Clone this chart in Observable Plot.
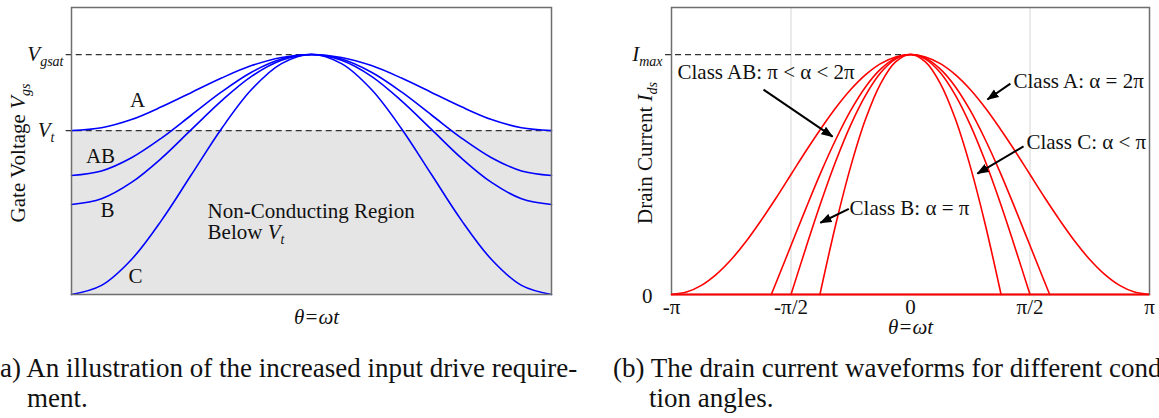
<!DOCTYPE html>
<html><head><meta charset="utf-8">
<script src="https://cdn.jsdelivr.net/npm/d3@7"></script>
<script src="https://cdn.jsdelivr.net/npm/@observablehq/plot@0.6"></script>
<style>
body{margin:0;background:#fff;}
#wrap{position:relative;width:1159px;height:418px;overflow:hidden;font-family:"Liberation Serif","Times New Roman",serif;color:#111;}
.plot{position:absolute;top:0;}
.cap{position:absolute;font-size:27px;line-height:30px;white-space:nowrap;}
</style></head><body><div id="wrap"></div>
<script>
// ---------- Panel (a): gate voltage, theta in units of pi ----------
const thetaL = [-1,-0.875,-0.75,-0.625,-0.5,-0.375,-0.25,-0.125,0,0.125,0.25,0.375,0.5,0.625,0.75,0.875,1];
const vgsA  = [0.683,0.695,0.729,0.782,0.842,0.902,0.954,0.988,1,0.988,0.954,0.902,0.842,0.782,0.729,0.695,0.683];
const vgsAB = [0.496,0.515,0.570,0.652,0.748,0.844,0.926,0.981,1,0.981,0.926,0.844,0.748,0.652,0.570,0.515,0.496];
const vgsB  = [0.375,0.399,0.467,0.568,0.688,0.807,0.909,0.976,1,0.976,0.909,0.807,0.688,0.568,0.467,0.399,0.375];
const vgsC  = [0,0.038,0.146,0.309,0.5,0.691,0.854,0.962,1,0.962,0.854,0.691,0.5,0.309,0.146,0.038,0];
const VGSAT = 1, VT = 0.683;
const leftCurveLabels = ["A","AB","B","C"];
const leftLabelX = [-0.725,-0.879,-0.85,-0.733];
const leftLabelY = [0.808,0.575,0.35,0.075];
const regionText = ["Non-Conducting Region","Below {V}[t]"];
const regionY = [0.347,0.26];
const regionX = -0.433;

// ---------- Panel (b): drain current ----------
const thetaA  = [-1,-0.9375,-0.875,-0.8125,-0.75,-0.6875,-0.625,-0.5625,-0.5,-0.4375,-0.375,-0.3125,-0.25,-0.1875,-0.125,-0.0625,0,0.0625,0.125,0.1875,0.25,0.3125,0.375,0.4375,0.5,0.5625,0.625,0.6875,0.75,0.8125,0.875,0.9375,1];
const idsA    = [0,0.010,0.038,0.084,0.146,0.222,0.309,0.402,0.5,0.598,0.691,0.778,0.854,0.916,0.962,0.990,1,0.990,0.962,0.916,0.854,0.778,0.691,0.598,0.5,0.402,0.309,0.222,0.146,0.084,0.038,0.010,0];
const thetaAB = [-0.5825,-0.5625,-0.5,-0.4375,-0.375,-0.3125,-0.25,-0.1875,-0.125,-0.0625,0,0.0625,0.125,0.1875,0.25,0.3125,0.375,0.4375,0.5,0.5625,0.5825];
const idsAB   = [0,0.049,0.204,0.359,0.509,0.646,0.767,0.866,0.939,0.985,1,0.985,0.939,0.866,0.767,0.646,0.509,0.359,0.204,0.049,0];
const thetaB  = [-0.5,-0.4375,-0.375,-0.3125,-0.25,-0.1875,-0.125,-0.0625,0,0.0625,0.125,0.1875,0.25,0.3125,0.375,0.4375,0.5];
const idsB    = [0,0.195,0.383,0.556,0.707,0.831,0.924,0.981,1,0.981,0.924,0.831,0.707,0.556,0.383,0.195,0];
const thetaC  = [-0.379,-0.3125,-0.25,-0.1875,-0.125,-0.0625,0,0.0625,0.125,0.1875,0.25,0.3125,0.379];
const idsC    = [0,0.293,0.534,0.732,0.879,0.969,1,0.969,0.879,0.732,0.534,0.293,0];
const IMAX = 1;
const xTicks = [-1,-0.5,0,0.5,1];
const xTickLabels = ["-π","-π/2","0","π/2","π"];
const gridX = [-0.5,0.5];
const noteText = ["Class AB: π < α < 2π","Class A: α = 2π","Class C: α < π","Class B: α = π"];
const noteX = [-0.975,0.431,0.485,-0.255];
const noteY = [0.925,0.8875,0.633,0.358];
const arrowX1 = [-0.615,0.418,0.473,-0.258];
const arrowY1 = [0.854,0.879,0.617,0.357];
const arrowX2 = [-0.326,0.322,0.280,-0.377];
const arrowY2 = [0.658,0.8125,0.504,0.299];

const captionA = ["(a) An illustration of the increased input drive require-","ment."];
const captionB = ["(b) The drain current waveforms for different conduc-","tion angles."];

// ---------- helpers ----------
const FONT = '"Liberation Serif","Times New Roman",serif';
const toRows = (name, xs, ys) => xs.map((x,i)=>({series:name, theta:x, v:ys[i]}));
function richify(svg){
  svg.querySelectorAll("text").forEach(t=>{
    const s = t.textContent;
    if(!/[{\[]/.test(s)) return;
    t.textContent = "";
    const re = /\{([^}]*)\}|\[([^\]]*)\]|([^{\[]+)/g;
    let m, shifted = false;
    while((m = re.exec(s))){
      const ts = document.createElementNS("http://www.w3.org/2000/svg","tspan");
      if(m[1]!==undefined){ ts.textContent=m[1]; ts.setAttribute("font-style","italic"); }
      else if(m[2]!==undefined){ ts.textContent=m[2]; ts.setAttribute("font-style","italic"); ts.setAttribute("font-size","14px"); ts.setAttribute("dy","5"); shifted=true; }
      else { ts.textContent=m[3]; if(shifted){ ts.setAttribute("dy","-5"); shifted=false; } }
      t.appendChild(ts);
    }
  });
}
function addArrowHeads(svg){
  const s = d3.select(svg);
  s.append("defs").append("marker").attr("id","ahead").attr("viewBox","0 -5 12 10")
    .attr("refX",11).attr("refY",0).attr("markerWidth",12).attr("markerHeight",10)
    .attr("markerUnits","userSpaceOnUse").attr("orient","auto")
    .append("path").attr("d","M0,-4.5L12,0L0,4.5Z").attr("fill","#000");
  s.selectAll('g[aria-label="link"] path').attr("marker-end","url(#ahead)");
}
const common = {
  height: 340, marginTop: 7, marginBottom: 46, marginLeft: 71,
  x: {domain:[-1,1], axis:null},
  y: {domain:[0,1.196], axis:null},
  style: {fontFamily: FONT, fontSize: "21px", color:"#111", background:"transparent", overflow:"visible"}
};

// ---------- Plot (a) ----------
const rowsL = [
  ...toRows("A", thetaL, vgsA), ...toRows("AB", thetaL, vgsAB),
  ...toRows("B", thetaL, vgsB), ...toRows("C", thetaL, vgsC)
];
const plotA = Plot.plot({
  ...common, width: 560, marginRight: 9,
  marks: [
    Plot.rect([{x1:thetaL[0], x2:thetaL[thetaL.length-1], y1:0, y2:VT}], {x1:"x1",x2:"x2",y1:"y1",y2:"y2",fill:"#e5e5e5"}),
    Plot.ruleY([VGSAT], {x1:-1.022, x2:0, stroke:"#333", strokeWidth:1.2, strokeDasharray:"6,4"}),
    Plot.ruleY([VT], {x1:-1.022, x2:1, stroke:"#333", strokeWidth:1.2, strokeDasharray:"6,4"}),
    Plot.line(rowsL, {x:"theta", y:"v", z:"series", stroke:"#0000ff", strokeWidth:1.6, curve:"catmull-rom"}),
    Plot.text(leftCurveLabels, {x:(d,i)=>leftLabelX[i], y:(d,i)=>leftLabelY[i], text:d=>d}),
    Plot.text(regionText, {x:()=>regionX, y:(d,i)=>regionY[i], text:d=>d, textAnchor:"start"}),
    Plot.text(["{V}[gsat]"], {x:()=>-1, y:()=>VGSAT, text:d=>d, textAnchor:"end", dx:-8}),
    Plot.text(["{V}[t]"], {x:()=>-1, y:()=>VT, text:d=>d, textAnchor:"end", dx:-17}),
    Plot.text(["Gate Voltage {V}[gs]"], {text:d=>d, frameAnchor:"left", textAnchor:"middle", rotate:-90, dx:-53, dy:2}),
    Plot.text(["θ=ωt"], {text:d=>d, frameAnchor:"bottom", dy:29, dx:5, fontStyle:"italic"}),
    Plot.frame({stroke:"#6e6e6e", strokeWidth:1.5})
  ]
});

// ---------- Plot (b) ----------
const rowsR = [
  ...toRows("A", thetaA, idsA), ...toRows("AB", thetaAB, idsAB),
  ...toRows("B", thetaB, idsB), ...toRows("C", thetaC, idsC)
];
const plotB = Plot.plot({
  ...common, width: 559, marginRight: 10,
  marks: [
    Plot.ruleX(gridX, {stroke:"#dcdcdc", strokeWidth:1.2}),
    Plot.ruleY([IMAX], {x1:-1.025, x2:0, stroke:"#333", strokeWidth:1.2, strokeDasharray:"6,4"}),
    Plot.line(rowsR, {x:"theta", y:"v", z:"series", stroke:"#ff0000", strokeWidth:1.6, curve:"catmull-rom"}),
    Plot.frame({stroke:"#6e6e6e", strokeWidth:1.5}),
    Plot.ruleY([0], {x1:xTicks[0], x2:xTicks[xTicks.length-1], stroke:"#ff0000", strokeWidth:2}),
    Plot.link(arrowX1, {x1:d=>d, y1:(d,i)=>arrowY1[i], x2:(d,i)=>arrowX2[i], y2:(d,i)=>arrowY2[i], stroke:"#000", strokeWidth:2}),
    Plot.text(noteText, {x:(d,i)=>noteX[i], y:(d,i)=>noteY[i], text:d=>d, textAnchor:"start"}),
    Plot.text(xTickLabels, {x:(d,i)=>xTicks[i], y:()=>0, text:d=>d, dy:13}),
    Plot.text(["{I}[max]"], {x:()=>-1, y:()=>IMAX, text:d=>d, textAnchor:"end", dx:-9}),
    Plot.text(["0"], {x:()=>-1, y:()=>0, text:d=>d, textAnchor:"end", dx:-19, dy:2}),
    Plot.text(["Drain Current {I}[ds]"], {text:d=>d, frameAnchor:"left", textAnchor:"middle", rotate:-90, dx:-26, dy:2}),
    Plot.text(["θ=ωt"], {text:d=>d, frameAnchor:"bottom", dy:39, fontStyle:"italic"})
  ]
});

const wrap = document.getElementById("wrap");
[[plotA,0],[plotB,600]].forEach(([p,left])=>{
  const svg = p.tagName.toLowerCase()==="svg" ? p : p.querySelector("svg");
  richify(svg);
  p.classList.add("plot");
  p.style.left = left+"px";
  p.style.position = "absolute";
  p.style.top = "0px";
  wrap.appendChild(p);
});
addArrowHeads(plotB.tagName.toLowerCase()==="svg" ? plotB : plotB.querySelector("svg"));

function addCap(lines, left, indent){
  lines.forEach((s,i)=>{
    const d = document.createElement("div");
    d.className = "cap";
    d.textContent = s;
    d.style.left = (left + (i? indent:0)) + "px";
    d.style.top = (353 + i*30) + "px";
    wrap.appendChild(d);
  });
}
addCap(captionA, -9, 36);
addCap(captionB, 613, 36);
</script></body></html>
